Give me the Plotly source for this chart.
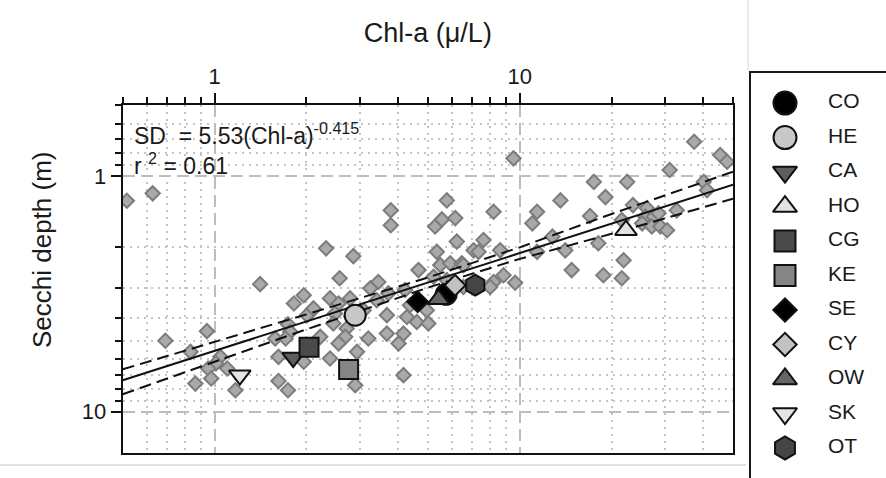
import plotly.graph_objects as go

# ---------------- data ----------------
# small grey diamonds (individual observations): Chl-a (ug/L), Secchi depth (m)
obs_chl = [0.516, 0.627, 1.41, 1.96, 1.82, 2.09, 2.01, 1.74, 0.944, 0.690,
           1.77, 1.58, 1.71, 0.834, 1.045, 1.01, 0.953, 1.10, 1.62, 1.96,
           0.975, 0.865, 1.17, 1.62, 1.74,
           3.78, 3.78, 5.77, 5.28, 5.56, 6.15, 6.22, 2.32, 2.85, 5.35,
           5.49, 5.92, 6.46, 4.66, 2.57, 3.44, 3.24, 5.22, 5.77, 4.21,
           3.71, 2.39, 2.55, 2.78, 3.40, 2.11, 2.48, 3.08, 3.67, 4.27,
           4.96, 2.45, 2.71, 4.60, 5.02, 3.67, 4.16, 3.19, 2.68, 2.55,
           4.01, 2.22, 2.93, 2.39, 4.16, 2.89,
           9.54, 17.5, 13.6, 8.21, 11.4, 11.0, 17.0, 12.8, 7.61, 7.06,
           7.33, 8.63, 11.4, 14.1, 18.1, 14.8, 6.54, 8.85, 9.66, 8.21,
           37.3, 45.4, 47.8, 31.0, 22.5, 40.1, 41.1, 19.1, 23.5, 26.1,
           25.8, 27.5, 28.5, 32.7, 21.6, 25.2, 27.1, 28.9, 30.4, 21.9,
           18.8, 21.6, 6.54, 8.00, 4.37]
obs_sd = [1.275, 1.186, 2.88, 3.21, 3.48, 3.72, 3.90, 4.26, 4.56, 5.01,
          4.59, 4.90, 4.90, 5.58, 5.86, 6.25, 6.57, 6.57, 5.86, 6.15,
          7.24, 7.61, 8.12, 7.42, 8.12,
          1.40, 1.62, 1.27, 1.64, 1.53, 1.51, 1.90, 2.03, 2.19, 2.10,
          2.39, 2.35, 2.35, 2.51, 2.72, 2.82, 3.00, 2.68, 2.77, 3.05,
          3.15, 3.31, 3.48, 3.31, 3.37, 3.65, 3.84, 3.72, 3.90, 3.97,
          3.72, 4.23, 4.44, 4.17, 4.23, 4.67, 4.67, 4.90, 4.82, 5.14,
          5.14, 4.82, 5.58, 5.96, 7.01, 7.73,
          0.842, 1.06, 1.27, 1.42, 1.42, 1.59, 1.48, 1.81, 1.87, 2.07,
          2.10, 2.07, 2.10, 2.07, 1.93, 2.51, 2.39, 2.64, 2.84, 2.82,
          0.716, 0.815, 0.871, 0.944, 1.06, 1.06, 1.15, 1.23, 1.33, 1.37,
          1.49, 1.49, 1.44, 1.40, 1.54, 1.59, 1.64, 1.64, 1.70, 2.28,
          2.64, 2.72, 2.96, 2.96, 3.54]

# group means (large symbols)
groups = ["CO", "HE", "CA", "HO", "CG", "KE", "SE", "CY", "OW", "SK", "OT"]
group_chl = [5.74, 2.89, 1.81, 22.3, 2.04, 2.75, 4.63, 6.14, 5.42, 1.21, 7.15]
group_sd = [3.18, 3.90, 5.90, 1.70, 5.33, 6.63, 3.42, 2.91, 3.34, 7.01, 2.91]

# regression line and confidence band
fit_chl = [0.5, 1, 2, 5, 10, 20, 50]
fit_sd = [7.37, 5.53, 4.15, 2.84, 2.13, 1.60, 1.09]
band_upper = [6.62, 5.07, 3.87, 2.70, 2.01, 1.45, 0.96]
band_lower = [8.45, 6.16, 4.48, 2.98, 2.25, 1.76, 1.25]

eq_a, eq_b, eq_r2 = "5.53", "-0.415", "0.61"

# ---------------- styles ----------------
sym = {"CO": "circle", "HE": "circle", "CA": "triangle-down", "HO": "triangle-up",
       "CG": "square", "KE": "square", "SE": "diamond", "CY": "diamond",
       "OW": "triangle-up", "SK": "triangle-down", "OT": "hexagon"}
fill = {"CO": "#000000", "HE": "#c8c8c8", "CA": "#5e5e5e", "HO": "#e2e2e2",
        "CG": "#4a4a4a", "KE": "#858585", "SE": "#000000", "CY": "#c2c2c2",
        "OW": "#666666", "SK": "#e4e4e4", "OT": "#454545"}
size = {"CO": 21, "HE": 21, "CA": 19, "HO": 19, "CG": 19, "KE": 19,
        "SE": 16, "CY": 16, "OW": 19, "SK": 19, "OT": 21}

W, H = 886, 478
FONT = "Liberation Sans, Arial, sans-serif"
INK = "#1a1a1a"

fig = go.Figure()

fig.add_trace(go.Scatter(
    x=obs_chl, y=obs_sd, mode="markers", showlegend=False,
    marker=dict(symbol="diamond", size=11, color="#a9a9a9",
                line=dict(color="#7c7c7c", width=2)),
))

fig.add_trace(go.Scatter(x=fit_chl, y=band_upper, mode="lines", showlegend=False,
                         line=dict(color="#111111", width=2, dash="12px,6px")))
fig.add_trace(go.Scatter(x=fit_chl, y=band_lower, mode="lines", showlegend=False,
                         line=dict(color="#111111", width=2, dash="12px,6px")))
fig.add_trace(go.Scatter(x=fit_chl, y=fit_sd, mode="lines", showlegend=False,
                         line=dict(color="#111111", width=2)))

for g, cx, cy in zip(groups, group_chl, group_sd):
    fig.add_trace(go.Scatter(
        x=[cx], y=[cy], mode="markers", name=g, showlegend=False,
        marker=dict(symbol=sym[g], size=size[g], color=fill[g],
                    line=dict(color="#111111", width=2)),
    ))

# custom legend drawn on its own axes
for g in groups:
    fig.add_trace(go.Scatter(
        x=[0], y=[g], xaxis="x3", yaxis="y3", mode="markers", showlegend=False,
        marker=dict(symbol=sym[g], size=round(size[g] * 1.1), color=fill[g],
                    line=dict(color="#111111", width=2)),
    ))
fig.add_trace(go.Scatter(
    x=[1] * len(groups), y=groups, xaxis="x3", yaxis="y3", mode="text",
    text=groups, textposition="middle right", showlegend=False,
    textfont=dict(family=FONT, size=21, color=INK),
))

x0, x1 = 122.7, 733.0
y0, y1 = 105.0, 453.0

fig.update_layout(
    width=W, height=H, autosize=False,
    margin=dict(l=0, r=0, t=0, b=0),
    paper_bgcolor="white", plot_bgcolor="white",
    font=dict(family=FONT, color=INK),
    showlegend=False,
    xaxis=dict(
        type="log", range=[-0.30103, 1.69897], side="top",
        domain=[x0 / W, x1 / W], anchor="y",
        dtick=1, ticks="outside", ticklen=10, tickwidth=2, tickcolor="#111111",
        tickfont=dict(size=22, color=INK),
        showline=True, linecolor="#111111", linewidth=2, mirror=True,
        showgrid=True, gridcolor="#bdbdbd", gridwidth=2, griddash="12px,6px",
        minor=dict(dtick="D1", ticks="outside", ticklen=6, tickwidth=1.5,
                   tickcolor="#111111", showgrid=True, gridcolor="#c4c4c4",
                   gridwidth=1.5, griddash="2px,5px"),
        title=dict(text="Chl-a (μ/L)", font=dict(size=27, color=INK), standoff=14),
        zeroline=False, automargin=False,
    ),
    yaxis=dict(
        type="log", range=[1.17609, -0.30103],
        domain=[(H - y1) / H, (H - y0) / H], anchor="x",
        dtick=1, ticks="outside", ticklen=10, tickwidth=2, tickcolor="#111111",
        tickfont=dict(size=22, color=INK),
        showline=True, linecolor="#111111", linewidth=2, mirror=True,
        showgrid=True, gridcolor="#bdbdbd", gridwidth=2, griddash="12px,6px",
        minor=dict(dtick="D1", ticks="outside", ticklen=6, tickwidth=1.5,
                   tickcolor="#111111", showgrid=True, gridcolor="#c4c4c4",
                   gridwidth=1.5, griddash="2px,5px"),
        zeroline=False, automargin=False,
    ),
    xaxis3=dict(domain=[750 / W, 1.0], range=[-0.814, 2.349], visible=False,
                anchor="y3", fixedrange=True),
    yaxis3=dict(domain=[0, (H - 72) / H], type="category", categoryorder="array",
                categoryarray=groups, range=[10.87, -0.9], visible=False,
                anchor="x3", fixedrange=True),
    annotations=[
        dict(xref="x domain", yref="y domain", x=0.016, y=0.965,
             xanchor="left", yanchor="top", showarrow=False, align="left",
             text=f"SD  = {eq_a}(Chl-a)<sup>{eq_b}</sup><br>r <sup>2</sup> = {eq_r2}",
             font=dict(size=23, color=INK)),
        dict(xref="paper", yref="paper", x=42 / W, y=1 - 250 / H,
             xanchor="center", yanchor="middle", showarrow=False,
             textangle=-90, text="Secchi depth (m)",
             font=dict(size=26, color=INK)),
    ],
    shapes=[
        dict(type="rect", xref="paper", yref="paper",
             x0=750 / W, x1=1.02, y0=-0.02, y1=(H - 72) / H,
             line=dict(color="#1a1a1a", width=2), fillcolor="rgba(0,0,0,0)"),
        dict(type="line", xref="paper", yref="paper",
             x0=748 / W, x1=748 / W, y0=(H - 70) / H, y1=1.0,
             line=dict(color="#d6d6d6", width=1)),
        dict(type="line", xref="paper", yref="paper",
             x0=0, x1=746 / W, y0=(H - 465) / H, y1=(H - 465) / H,
             line=dict(color="#d6d6d6", width=1.5)),
    ],
)

fig.write_html("out.html")
